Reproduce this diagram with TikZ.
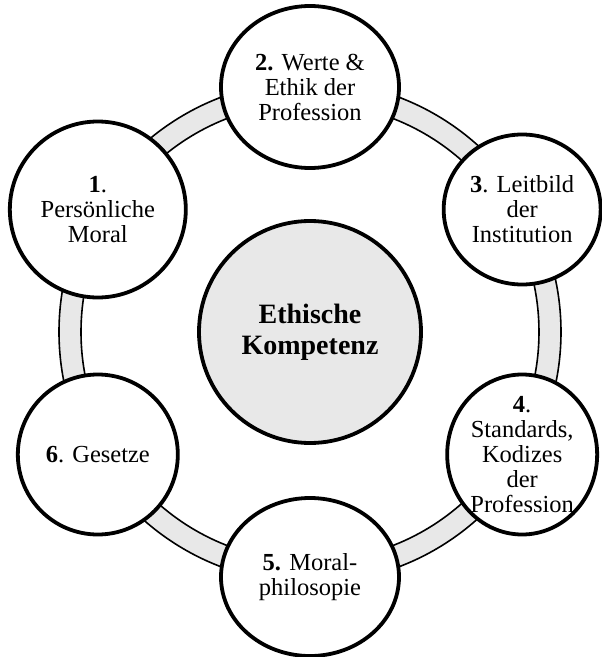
\documentclass[tikz,border=0pt]{standalone}
\usepackage{fontspec}
\setmainfont{Liberation Serif}
\usepackage{tikz}
\usetikzlibrary{shapes.geometric}
\definecolor{ringgray}{RGB}{232,232,232}

\begin{document}
\begin{tikzpicture}[
    x=1pt, y=1pt,
    outernode/.style={
        draw,
        ellipse,
        line width=3.8pt,
        fill=white,
        inner sep=-8pt,
        align=center,
        font=\fontsize{24.5}{25}\selectfont
    },
    corenode/.style={
        draw,
        circle,
        line width=3.8pt,
        fill=ringgray,
        inner sep=0pt,
        minimum size=222pt,
        align=center,
        font=\fontsize{28}{31}\selectfont\bfseries
    },
    ring/.style={
        draw,
        line width=1.6pt,
        fill=ringgray,
        even odd rule
    }
]
\useasboundingbox (-310,-325) rectangle (292,332);

\coordinate (mid) at (0,0);
\path[ring] (mid) circle[radius=251] (mid) circle[radius=229];

\node[outernode, minimum width=176pt, minimum height=176pt] (moral) at (150:245) {\textbf{1}.\\Persönliche\\Moral};
\node[outernode, minimum width=178pt, minimum height=162pt] (werte) at (90:245) {\textbf{2.} Werte \&\\Ethik der\\Profession};
\node[outernode, minimum width=157pt, minimum height=150pt] (leitbild) at (30:245) {\textbf{3}. Leitbild\\der\\Institution};
\node[outernode, minimum width=150pt, minimum height=160pt] (standards) at (-30:245) {\textbf{4}.\\Standards,\\Kodizes\\der\\Profession};
\node[outernode, minimum width=178pt, minimum height=158pt] (philo) at (-90:245) {\textbf{5.} Moral-\\philosopie};
\node[outernode, minimum width=160pt, minimum height=160pt] (gesetze) at (-150:245) {\textbf{6}. Gesetze};

\node[corenode] (kompetenz) at (mid) {Ethische\\Kompetenz};
\end{tikzpicture}
\end{document}
